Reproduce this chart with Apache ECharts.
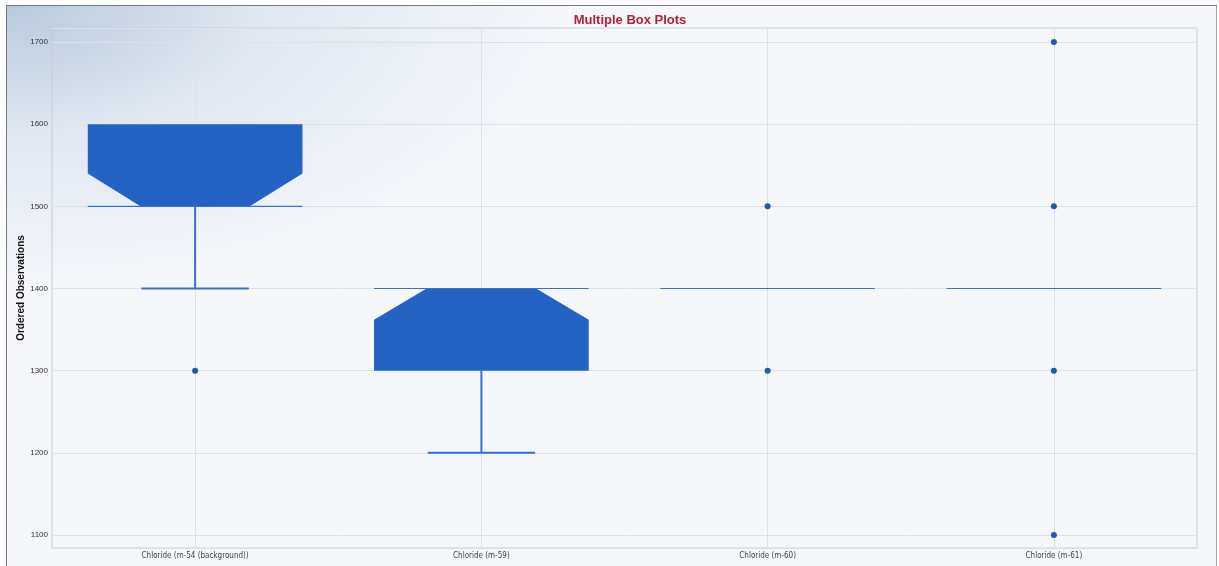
<!DOCTYPE html>
<html>
<head>
<meta charset="utf-8">
<script src="https://cdn.jsdelivr.net/npm/echarts@6/dist/echarts.min.js"></script>
<style>
  html, body { margin: 0; padding: 0; background: #ffffff; }
  #frame {
    position: absolute; left: 6px; top: 5px; width: 1209px; height: 570px;
    border-left: 1px solid #737a84; border-top: 1px solid #737a84; border-right: 1px solid #a3a8b0;
    background:
      radial-gradient(ellipse 560px 280px at 0 0, #b9c9dc 0%, rgba(214,224,236,0.7) 45%, rgba(244,246,251,0) 100%),
      #f5f7fb;
  }
  #chart { position: absolute; left: 0; top: 0; width: 1219px; height: 566px; }
</style>
</head>
<body>
<div id="frame"></div>
<div id="chart"></div>
<script>
// Chloride observations per monitoring well
const categories = ['Chloride (m-54 (background))', 'Chloride (m-59)', 'Chloride (m-60)', 'Chloride (m-61)'];
const lowerWhisker = [1400, 1200, 1400, 1400];
const q1 = [1500, 1300, 1400, 1400];
const median = [1500, 1400, 1400, 1400];
const q3 = [1600, 1400, 1400, 1400];
const upperWhisker = [1600, 1400, 1400, 1400];
const notchLow = [1460, 1362, 1400, 1400];
const notchHigh = [1540, 1438, 1400, 1400];
const outliers = [[1300], [], [1500, 1300], [1700, 1500, 1300, 1100]];
const yTicks = [1100, 1200, 1300, 1400, 1500, 1600, 1700];

const boxData = categories.map((c, i) => [i, lowerWhisker[i], q1[i], median[i], q3[i], upperWhisker[i], notchLow[i], notchHigh[i]]);
const outlierData = [];
outliers.forEach((list, i) => list.forEach(v => outlierData.push([i, v])));

const BOX_FILL = '#2462c4';
const LINE_COLOR = '#3a70d2';

function renderBox(params, api) {
  const idx = api.value(0);
  const lo = api.value(1), a = api.value(2), m = api.value(3), b = api.value(4), hi = api.value(5);
  const nl = Math.max(a, api.value(6)), nh = Math.min(b, api.value(7));
  const band = api.size([1, 0])[0];
  const half = band * 0.375;
  const inner = half * 0.51;
  const capHalf = half * 0.5;
  const cx = api.coord([idx, m])[0];
  const y = v => api.coord([idx, v])[1];
  const children = [];
  if (b > a) {
    const pts = [
      [cx - half, y(b)], [cx + half, y(b)],
      [cx + half, y(nh)], [cx + inner, y(m)], [cx + half, y(nl)],
      [cx + half, y(a)], [cx - half, y(a)],
      [cx - half, y(nl)], [cx - inner, y(m)], [cx - half, y(nh)]
    ];
    children.push({ type: 'polygon', shape: { points: pts }, style: { fill: BOX_FILL } });
  }
  children.push({ type: 'line', shape: { x1: cx - half, y1: y(m), x2: cx + half, y2: y(m) },
    style: { stroke: LINE_COLOR, lineWidth: 1.2 } });
  if (lo < a) {
    children.push({ type: 'line', shape: { x1: cx, y1: y(a), x2: cx, y2: y(lo) }, style: { stroke: LINE_COLOR, lineWidth: 2 } });
    children.push({ type: 'line', shape: { x1: cx - capHalf, y1: y(lo), x2: cx + capHalf, y2: y(lo) }, style: { stroke: LINE_COLOR, lineWidth: 2 } });
  }
  if (hi > b) {
    children.push({ type: 'line', shape: { x1: cx, y1: y(b), x2: cx, y2: y(hi) }, style: { stroke: LINE_COLOR, lineWidth: 2 } });
    children.push({ type: 'line', shape: { x1: cx - capHalf, y1: y(hi), x2: cx + capHalf, y2: y(hi) }, style: { stroke: LINE_COLOR, lineWidth: 2 } });
  }
  return { type: 'group', children };
}

const chart = echarts.init(document.getElementById('chart'), null, { renderer: 'canvas' });
chart.setOption({
  backgroundColor: 'transparent',
  animation: false,
  title: {
    text: 'Multiple Box Plots',
    left: 625, top: 9, textAlign: 'center',
    textStyle: { color: '#b3203a', fontSize: 13, fontWeight: 'bold', fontFamily: 'Liberation Sans, Arial, sans-serif' }
  },
  grid: { left: 52, right: 22, top: 28, bottom: 18, show: true, borderColor: '#c8ccd4', borderWidth: 1, backgroundColor: 'transparent' },
  xAxis: {
    type: 'category',
    data: categories,
    axisLine: { show: false },
    axisTick: { show: false, alignWithLabel: true },
    splitLine: { show: true, alignWithLabel: true, lineStyle: { color: '#dde1e8', width: 1 } },
    axisLabel: { color: '#444', fontSize: 8, margin: 4, fontFamily: 'Liberation Sans Narrow, DejaVu Sans Condensed, sans-serif' }
  },
  yAxis: {
    type: 'value',
    min: 1084.2, max: 1717,
    minInterval: 100, maxInterval: 100,
    name: 'Ordered Observations',
    nameLocation: 'middle',
    nameGap: 26,
    nameMoveOverlap: false,
    nameRotate: 90,
    nameTextStyle: { color: '#111', fontSize: 10, fontWeight: 'bold', fontFamily: 'Liberation Sans, Arial, sans-serif' },
    axisLine: { show: false },
    axisTick: { show: false },
    splitLine: { lineStyle: { color: '#dde1e8', width: 1 } },
    axisLabel: {
      color: '#333', fontSize: 8, margin: 4,
      fontFamily: 'Liberation Sans, Arial, sans-serif',
      formatter: v => (yTicks.indexOf(Math.round(v)) >= 0 && Math.abs(v - Math.round(v)) < 1e-6) ? String(Math.round(v)) : ''
    }
  },
  series: [
    {
      type: 'custom',
      renderItem: renderBox,
      encode: { x: 0, y: [1, 2, 3, 4, 5, 6, 7] },
      data: boxData,
      z: 3
    },
    {
      type: 'scatter',
      data: outlierData,
      symbol: 'circle',
      symbolSize: 6,
      itemStyle: { color: '#2654b8', opacity: 1 },
      z: 4
    }
  ]
});
</script>
</body>
</html>
